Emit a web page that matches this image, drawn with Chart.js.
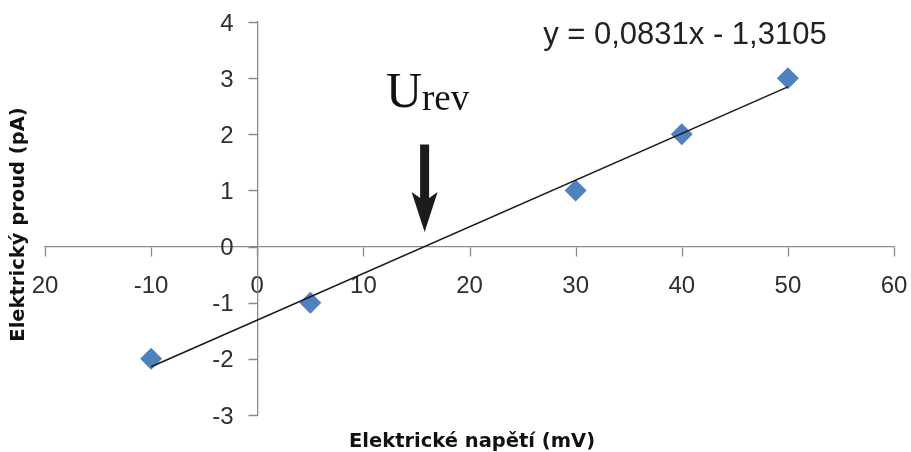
<!DOCTYPE html>
<html>
<head>
<meta charset="utf-8">
<title>Elektrický proud vs. napětí</title>
<script src="https://cdn.jsdelivr.net/npm/chart.js@4/dist/chart.umd.min.js"></script>
<style>
  html, body { margin: 0; padding: 0; background: #ffffff; }
  #wrap { width: 911px; height: 452px; }
</style>
</head>
<body>
<div id="wrap"><canvas id="chart" width="911" height="452"></canvas></div>
<script>
// Measured points: membrane voltage (mV) and current (pA)
const voltage = [-10, 5, 30, 40, 50];
const current = [-2, -1, 1, 2, 3];

// Linear fit y = slope * x + intercept
const slope = 0.0831;
const intercept = -1.3105;
const fitFrom = -10;
const fitTo = 50;

// Axis ticks and their printed labels
const xTickValues = [-20, -10, 0, 10, 20, 30, 40, 50, 60];
const xTickLabels = ['20', '-10', '0', '10', '20', '30', '40', '50', '60'];
const yTickValues = [-3, -2, -1, 0, 1, 2, 3, 4];
const yTickLabels = ['-3', '-2', '-1', '0', '1', '2', '3', '4'];

const equationText = 'y = 0,0831x - 1,3105';
const xTitle = 'Elektrické napětí (mV)';
const yTitle = 'Elektrický proud (pA)';

// Reversal potential: where the fitted line crosses zero current
const uRev = -intercept / slope;

const axisGrey = '#8a8a8a';
const labelColor = '#2e2e2e';
const tickFont = '24px "Liberation Sans"';
const tickLen = 9;

const points = voltage.map((v, i) => ({ x: v, y: current[i] }));
const fitLine = [fitFrom, fitTo].map(x => ({ x: x, y: slope * x + intercept }));

// Tick marks on both crossing axes and the value labels of the vertical axis
const axisDecor = {
  id: 'axisDecor',
  afterDraw(chart) {
    const { ctx, scales: { x, y } } = chart;
    const x0 = Math.round(x.getPixelForValue(0)) + 0.5;
    const y0 = Math.round(y.getPixelForValue(0)) + 0.5;
    ctx.save();
    ctx.strokeStyle = axisGrey;
    ctx.lineWidth = 1.3;
    ctx.beginPath();
    xTickValues.forEach(v => {
      const px = Math.round(x.getPixelForValue(v)) + 0.5;
      ctx.moveTo(px, y0);
      ctx.lineTo(px, y0 + tickLen);
    });
    yTickValues.forEach(v => {
      const py = Math.round(y.getPixelForValue(v)) + 0.5;
      ctx.moveTo(x0, py);
      ctx.lineTo(x0 - tickLen, py);
    });
    ctx.stroke();

    ctx.fillStyle = labelColor;
    ctx.font = tickFont;
    ctx.textAlign = 'right';
    ctx.textBaseline = 'middle';
    yTickValues.forEach((v, i) => {
      ctx.fillText(yTickLabels[i], x0 - 24, y.getPixelForValue(v) + 2);
    });
    ctx.restore();
  }
};

const annotations = {
  id: 'annotations',
  afterDatasetsDraw(chart) {
    const { ctx, scales: { x, y } } = chart;
    ctx.save();

    // Arrow pointing at the reversal potential
    const ax = x.getPixelForValue(uRev);
    const top = y.getPixelForValue(1.82);
    const tip = y.getPixelForValue(0.26);
    const headLen = 40;
    const headHalf = 13;
    const shaftHalf = 4.5;
    ctx.fillStyle = '#1b1b1b';
    ctx.beginPath();
    ctx.moveTo(ax - shaftHalf, top);
    ctx.lineTo(ax + shaftHalf, top);
    ctx.lineTo(ax + shaftHalf, tip - headLen + 6);
    ctx.lineTo(ax + headHalf, tip - headLen);
    ctx.lineTo(ax, tip);
    ctx.lineTo(ax - headHalf, tip - headLen);
    ctx.lineTo(ax - shaftHalf, tip - headLen + 6);
    ctx.closePath();
    ctx.fill();

    // "U" with subscript "rev"
    const base = y.getPixelForValue(2.49);
    ctx.fillStyle = '#111111';
    ctx.textBaseline = 'alphabetic';
    ctx.textAlign = 'left';
    ctx.font = '50px "Liberation Serif"';
    const uW = ctx.measureText('U').width;
    ctx.font = '37px "Liberation Serif"';
    const subW = ctx.measureText('rev').width;
    const startX = ax + 3 - (uW + subW) / 2;
    ctx.font = '50px "Liberation Serif"';
    ctx.fillText('U', startX, base);
    ctx.font = '37px "Liberation Serif"';
    ctx.fillText('rev', startX + uW, base + 3);

    // Fit equation
    ctx.font = '31px "Liberation Sans"';
    ctx.fillStyle = '#222222';
    ctx.textAlign = 'center';
    ctx.textBaseline = 'middle';
    ctx.fillText(equationText, x.getPixelForValue(40.3), y.getPixelForValue(3.76));

    ctx.restore();
  }
};

const axisTitles = {
  id: 'axisTitles',
  afterDraw(chart) {
    const { ctx, chartArea } = chart;
    ctx.save();
    ctx.fillStyle = '#111111';
    ctx.font = 'bold 19.5px "DejaVu Sans"';
    ctx.textAlign = 'center';
    ctx.textBaseline = 'middle';
    ctx.fillText(xTitle, 472, 442);
    ctx.translate(19, (chartArea.top + chartArea.bottom) / 2 + 6);
    ctx.rotate(-Math.PI / 2);
    ctx.fillText(yTitle, 0, 0);
    ctx.restore();
  }
};

new Chart(document.getElementById('chart'), {
  type: 'scatter',
  data: {
    datasets: [
      {
        type: 'line',
        label: 'fit',
        data: fitLine,
        borderColor: '#1a1a1a',
        borderWidth: 1.6,
        pointRadius: 0,
        fill: false,
        order: 0
      },
      {
        label: 'data',
        data: points,
        pointStyle: 'rectRot',
        pointRadius: 11,
        pointHoverRadius: 11,
        backgroundColor: '#4f81bd',
        borderColor: '#4f81bd',
        borderWidth: 0,
        order: 1
      }
    ]
  },
  plugins: [axisDecor, annotations, axisTitles],
  options: {
    responsive: false,
    animation: false,
    devicePixelRatio: 1,
    layout: { padding: { left: 45, right: 17, top: 22, bottom: 37 } },
    plugins: { legend: { display: false }, tooltip: { enabled: false } },
    scales: {
      x: {
        type: 'linear',
        min: -20,
        max: 60,
        position: { y: 0 },
        afterBuildTicks(scale) { scale.ticks = xTickValues.map(v => ({ value: v })); },
        ticks: {
          autoSkip: false,
          maxRotation: 0,
          padding: 0,
          color: labelColor,
          font: { family: 'Liberation Sans', size: 24 },
          callback: v => xTickLabels[xTickValues.indexOf(v)]
        },
        // invisible tick length only sets the gap between axis line and labels
        grid: { drawOnChartArea: false, drawTicks: true, tickLength: 25, tickColor: 'rgba(0,0,0,0)' },
        border: { color: axisGrey, width: 1.3 }
      },
      y: {
        type: 'linear',
        min: -3,
        max: 4,
        position: { x: 0 },
        afterBuildTicks(scale) { scale.ticks = yTickValues.map(v => ({ value: v })); },
        ticks: { display: false },
        grid: { drawOnChartArea: false, drawTicks: false },
        border: { color: axisGrey, width: 1.3 }
      }
    }
  }
});
</script>
</body>
</html>
